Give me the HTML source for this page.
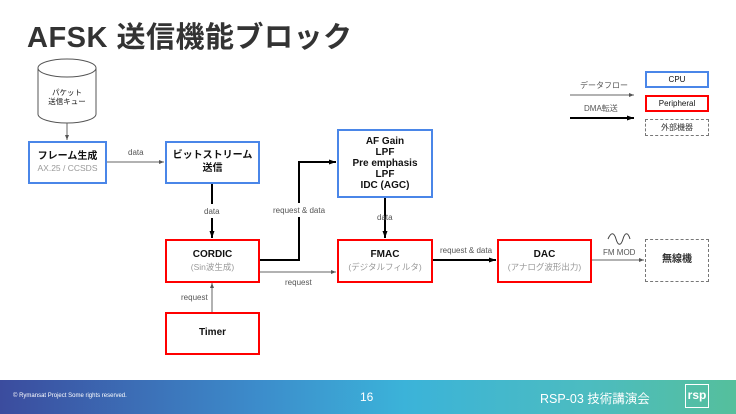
<!DOCTYPE html>
<html><head><meta charset="utf-8"><style>
body{margin:0;width:736px;height:414px;overflow:hidden;background:#fff;font-family:"Liberation Sans","Noto Sans CJK JP",sans-serif;position:relative}
.t{position:absolute;left:27px;top:14px;font-size:29px;font-weight:bold;color:#333;letter-spacing:0.5px}
.b{position:absolute;box-sizing:border-box;display:flex;flex-direction:column;align-items:center;justify-content:center;text-align:center;font-size:10px;font-weight:bold;color:#111;line-height:1.25;background:#fff}
.blue{border:2px solid #4a86e8}.red{border:2px solid #f00}.dash{border:1px dashed #777;font-weight:normal;color:#333}
.s{font-weight:normal;color:#999;font-size:8.5px}
.l{position:absolute;font-size:8px;color:#555;white-space:nowrap}
.foot{position:absolute;left:0;top:380px;width:736px;height:34px;background:linear-gradient(90deg,#3b4c9e 0%,#3c8ccb 35%,#3bb3d9 55%,#4cbcc0 80%,#55bf9c 100%);color:#fff}
</style></head><body>
<div class="t">AFSK 送信機能ブロック</div>
<svg style="position:absolute;left:0;top:0" width="736" height="414">
<defs><marker id="a" markerWidth="8" markerHeight="8" refX="7" refY="4" orient="auto" markerUnits="userSpaceOnUse"><path d="M0,1.5L7,4L0,6.5z" fill="#000"/></marker>
<marker id="g" markerWidth="6" markerHeight="6" refX="5" refY="3" orient="auto" markerUnits="userSpaceOnUse"><path d="M0,1L5,3L0,5z" fill="#555"/></marker></defs>
<path d="M38,68 L38,114 A29,9 0 0 0 96,114 L96,68" fill="#fff" stroke="#555"/>
<ellipse cx="67" cy="68" rx="29" ry="9" fill="#fff" stroke="#555"/>
<g stroke="#666" stroke-width="1" fill="none">
<line x1="67" y1="123" x2="67" y2="140" marker-end="url(#g)"/>
<line x1="106" y1="162" x2="164" y2="162" marker-end="url(#g)"/>
<line x1="259" y1="272" x2="336" y2="272" marker-end="url(#g)"/>
<line x1="212" y1="312" x2="212" y2="283" marker-end="url(#g)"/>
<line x1="591" y1="260" x2="644" y2="260" marker-end="url(#g)"/>
<line x1="570" y1="95" x2="634" y2="95" marker-end="url(#g)"/>
<path d="M608,239 C611,232 614,232 616,239 C618,246 621,246 623,239 C625,232 628,232 630,239" stroke="#444"/>
</g>
<g stroke="#000" stroke-width="2" fill="none">
<line x1="212" y1="183" x2="212" y2="204"/><line x1="212" y1="218" x2="212" y2="238" marker-end="url(#a)"/>
<path d="M259,260 H299 V217 M299,203 V162 H336" marker-end="url(#a)"/>
<line x1="385" y1="197" x2="385" y2="238" marker-end="url(#a)"/>
<line x1="432" y1="260" x2="496" y2="260" marker-end="url(#a)"/>
<line x1="570" y1="118" x2="634" y2="118" marker-end="url(#a)"/>
</g>
</svg>
<div class="b" style="left:38px;top:82px;width:58px;height:30px;font-size:7.5px;font-weight:normal;background:none">パケット<br>送信キュー</div>
<div class="b blue" style="left:28px;top:141px;width:79px;height:43px">フレーム生成<span class="s">AX.25 / CCSDS</span></div>
<div class="b blue" style="left:165px;top:141px;width:95px;height:43px">ビットストリーム<br>送信</div>
<div class="b blue" style="left:337px;top:129px;width:96px;height:69px;line-height:1.1">AF Gain<br>LPF<br>Pre emphasis<br>LPF<br>IDC (AGC)</div>
<div class="b red" style="left:165px;top:239px;width:95px;height:44px">CORDIC<span class="s">(Sin波生成)</span></div>
<div class="b red" style="left:165px;top:312px;width:95px;height:43px">Timer</div>
<div class="b red" style="left:337px;top:239px;width:96px;height:44px">FMAC<span class="s">(デジタルフィルタ)</span></div>
<div class="b red" style="left:497px;top:239px;width:95px;height:44px">DAC<span class="s">(アナログ波形出力)</span></div>
<div class="b dash" style="left:645px;top:239px;width:64px;height:43px;font-size:10px;font-weight:bold;color:#333">無線機</div>
<div class="b" style="left:645px;top:71px;width:64px;height:17px;border:2px solid #4a86e8;font-weight:normal;font-size:8px">CPU</div>
<div class="b" style="left:645px;top:95px;width:64px;height:17px;border:2px solid #f00;font-weight:normal;font-size:8px">Peripheral</div>
<div class="b dash" style="left:645px;top:119px;width:64px;height:17px;font-size:8px">外部機器</div>
<div class="l" style="left:580px;top:80px">データフロー</div>
<div class="l" style="left:584px;top:103px">DMA転送</div>
<div class="l" style="left:128px;top:148px">data</div>
<div class="l" style="left:204px;top:207px">data</div>
<div class="l" style="left:273px;top:206px">request &amp; data</div>
<div class="l" style="left:377px;top:213px">data</div>
<div class="l" style="left:285px;top:278px">request</div>
<div class="l" style="left:440px;top:246px">request &amp; data</div>
<div class="l" style="left:603px;top:248px">FM MOD</div>
<div class="l" style="left:181px;top:293px">request</div>
<div class="foot">
<div style="position:absolute;left:13px;top:13px;font-size:6px">© Rymansat Project Some rights reserved.</div>
<div style="position:absolute;left:360px;top:10px;font-size:12px">16</div>
<div style="position:absolute;left:540px;top:8px;font-size:12.5px">RSP-03 技術講演会</div>
<div style="position:absolute;left:685px;top:4px;width:24px;height:24px;border:1.5px solid #fff;box-sizing:border-box;font-size:12px;font-weight:bold;text-align:center;line-height:20px">rsp</div>
</div>
</body></html>
